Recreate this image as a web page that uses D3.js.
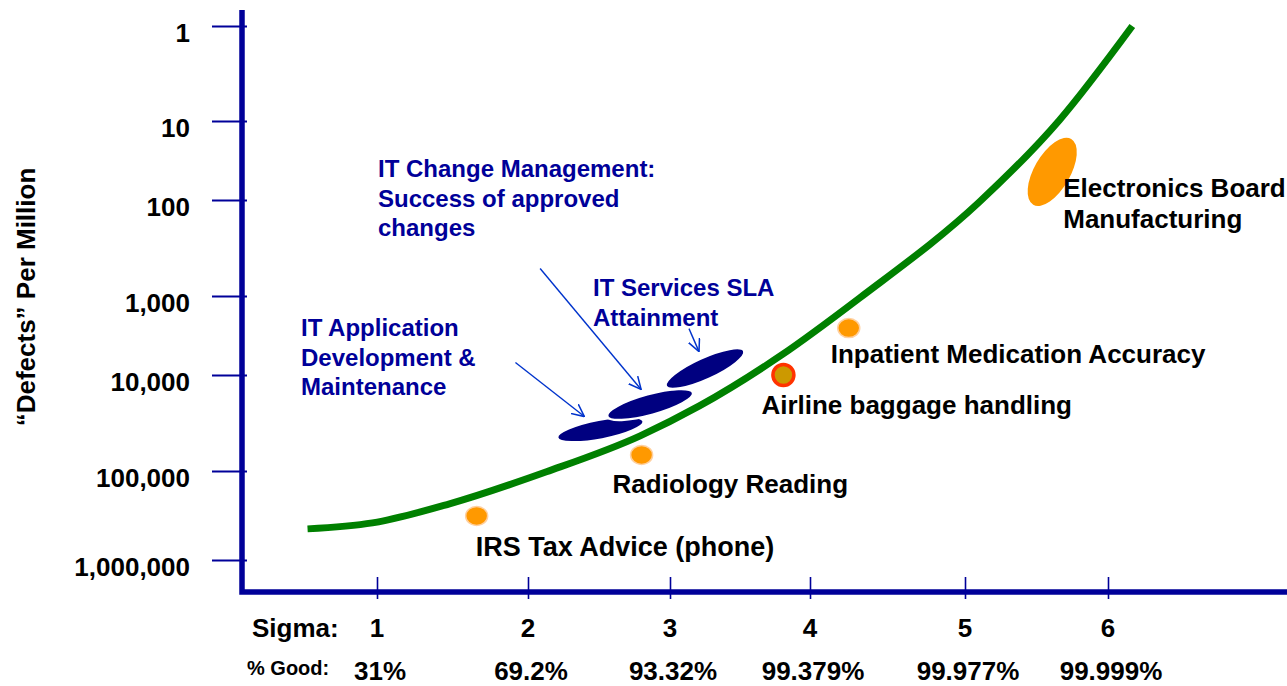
<!DOCTYPE html>
<html>
<head>
<meta charset="utf-8">
<script src="https://cdn.jsdelivr.net/npm/d3@7"></script>
<style>
  body { margin: 0; background: #fff; }
  text { font-family: "Liberation Sans", Arial, sans-serif; font-weight: bold; }
</style>
</head>
<body>
<div id="chart"></div>
<script>
// y axis: "defects" per million, log steps
let yTicks = [1, 10, 100, 1000, 10000, 100000, 1000000];
let yTickLabels = ["1", "10", "100", "1,000", "10,000", "100,000", "1,000,000"];

// x axis: sigma level and % good
let sigmas = [1, 2, 3, 4, 5, 6];
let goodLabels = ["31%", "69.2%", "93.32%", "99.379%", "99.977%", "99.999%"];

// green sigma curve
let curveSigma = [0.54, 0.97, 1.48, 2.13, 2.79, 3.21, 3.79, 4.32, 5.10, 5.66, 6.17];
let curveDpmo = [447000, 383000, 234000, 102000, 43000, 21000, 5700, 1060, 105, 9.8, 1];

// benchmark processes (orange markers)
let benchNames = [["IRS Tax Advice (phone)"], ["Radiology Reading"], ["Airline baggage handling"],
                  ["Inpatient Medication Accuracy"], ["Electronics Board", "Manufacturing"]];
let benchSigma = [1.66, 2.80, 3.81, 4.25, 5.61];
let benchDpmo = [320000, 68000, 10000, 2550, 44];

// IT processes (navy ellipses)
let itNames = [["IT Application", "Development &", "Maintenance"],
               ["IT Change Management:", "Success of approved", "changes"],
               ["IT Services SLA", "Attainment"]];
let itSigma = [2.51, 2.86, 3.25];
let itDpmo = [37000, 20300, 8300];

let width = 1287;
let height = 686;
let navy = "#000099";

let x = d3.scaleLinear()
          .domain(sigmas)
          .range([377, 528, 670, 810, 965, 1108]);

let y = d3.scaleLog()
          .domain(yTicks)
          .range([26, 121, 200, 296, 375, 471, 560]);

let svg = d3.select('#chart').append('svg')
            .attr('width', width)
            .attr('height', height);

svg.append('defs').append('marker')
    .attr('id', 'arrow')
    .attr('viewBox', '0 0 12 12')
    .attr('refX', 11.5)
    .attr('refY', 6)
    .attr('markerUnits', 'userSpaceOnUse')
    .attr('markerWidth', 13)
    .attr('markerHeight', 13)
    .attr('orient', 'auto')
  .append('path')
    .attr('d', 'M0,0.5 L11.5,6 L0,11.5')
    .attr('fill', 'none')
    .attr('stroke', '#0033cc')
    .attr('stroke-width', 1.4);

// y axis
let yAxis = d3.axisLeft(y)
              .tickValues(yTicks)
              .tickSize(35)
              .tickFormat('');
svg.append('g')
    .attr('transform', 'translate(247,0)')
    .call(yAxis)
    .call(g => g.select('.domain').remove())
    .call(g => g.selectAll('.tick line').attr('stroke', navy).attr('stroke-width', 2));

svg.selectAll('.ylab')
    .data(yTicks)
    .join('text')
    .attr('class', 'ylab')
    .attr('x', 190)
    .attr('y', d => y(d) + 16)
    .attr('text-anchor', 'end')
    .attr('font-size', 26)
    .text((d, i) => yTickLabels[i]);

// x axis
let xAxis = d3.axisBottom(x)
              .tickValues(sigmas)
              .tickSize(22)
              .tickFormat('');
svg.append('g')
    .attr('transform', 'translate(0,577)')
    .call(xAxis)
    .call(g => g.select('.domain').remove())
    .call(g => g.selectAll('.tick line').attr('stroke', navy).attr('stroke-width', 1.6));

svg.append('path')
    .attr('d', 'M242,10 L242,592 L1287,592')
    .attr('fill', 'none')
    .attr('stroke', navy)
    .attr('stroke-width', 5.5);

svg.append('text')
    .attr('x', 252).attr('y', 637)
    .attr('font-size', 26)
    .text('Sigma:');

svg.selectAll('.xlab')
    .data(sigmas)
    .join('text')
    .attr('class', 'xlab')
    .attr('x', d => x(d))
    .attr('y', 637)
    .attr('text-anchor', 'middle')
    .attr('font-size', 26)
    .text(d => d);

svg.append('text')
    .attr('x', 247).attr('y', 675)
    .attr('font-size', 20)
    .text('% Good:');

svg.selectAll('.glab')
    .data(sigmas)
    .join('text')
    .attr('class', 'glab')
    .attr('x', d => x(d) + 3)
    .attr('y', 680)
    .attr('text-anchor', 'middle')
    .attr('font-size', 26)
    .text((d, i) => goodLabels[i]);

svg.append('text')
    .attr('transform', 'translate(35,297) rotate(-90)')
    .attr('text-anchor', 'middle')
    .attr('font-size', 26)
    .text('\u201cDefects\u201d Per Million');

// curve
let line = d3.line()
             .x(d => x(d[0]))
             .y(d => y(d[1]))
             .curve(d3.curveMonotoneX);

svg.append('path')
    .datum(curveSigma.map((s, i) => [s, curveDpmo[i]]))
    .attr('d', line)
    .attr('fill', 'none')
    .attr('stroke', '#008000')
    .attr('stroke-width', 7);

// IT ellipses, arrows and labels
let itShape = [{rx: 44, ry: 10, rot: -10.7}, {rx: 44.5, ry: 10.5, rot: -15.3}, {rx: 43, ry: 11, rot: -24.4}];
let itArrow = [{tip: [-16, -13], tail: [-69, -54]}, {tip: [-9, -15], tail: [-101, -121]}, {tip: [-6, -17], tail: [-10, -23]}];
let itLabelPos = [[301, 336], [378, 177], [593, 296]];

itSigma.forEach((s, i) => {
    let cx = x(s), cy = y(itDpmo[i]);
    svg.append('ellipse')
        .attr('cx', cx).attr('cy', cy)
        .attr('rx', itShape[i].rx).attr('ry', itShape[i].ry)
        .attr('transform', `rotate(${itShape[i].rot},${cx},${cy})`)
        .attr('fill', '#000080')
        .attr('stroke', '#fff')
        .attr('stroke-width', 2.5);
});

itSigma.forEach((s, i) => {
    let tx = x(s) + itArrow[i].tip[0], ty = y(itDpmo[i]) + itArrow[i].tip[1];
    svg.append('line')
        .attr('x1', tx + itArrow[i].tail[0]).attr('y1', ty + itArrow[i].tail[1])
        .attr('x2', tx).attr('y2', ty)
        .attr('stroke', '#0033cc')
        .attr('stroke-width', 1.4)
        .attr('marker-end', 'url(#arrow)');

    svg.append('text')
        .attr('x', itLabelPos[i][0])
        .attr('y', itLabelPos[i][1])
        .attr('fill', navy)
        .attr('font-size', 24)
        .selectAll('tspan')
        .data(itNames[i])
        .join('tspan')
        .attr('x', itLabelPos[i][0])
        .attr('dy', (d, j) => j ? 29.5 : 0)
        .text(d => d);
});

// benchmark markers
let benchLabelOff = [[-1, 40], [-29, 38], [-22, 39], [-18, 35], [11, 25]];

benchSigma.forEach((s, i) => {
    let cx = x(s), cy = y(benchDpmo[i]);
    if (i == 4) {
        svg.append('ellipse')
            .attr('cx', cx).attr('cy', cy)
            .attr('rx', 18).attr('ry', 38)
            .attr('transform', `rotate(30,${cx},${cy})`)
            .attr('fill', '#ff9900');
    } else if (i == 2) {
        svg.append('circle')
            .attr('cx', cx).attr('cy', cy)
            .attr('r', 10.5)
            .attr('fill', '#cc9900')
            .attr('stroke', '#ff3300')
            .attr('stroke-width', 3.5);
    } else {
        svg.append('ellipse')
            .attr('cx', cx).attr('cy', cy)
            .attr('rx', 11).attr('ry', 9.5)
            .attr('fill', '#ff9900')
            .attr('stroke', '#ffd0a0')
            .attr('stroke-width', 1.5);
    }

    let lx = cx + benchLabelOff[i][0];
    svg.append('text')
        .attr('x', lx)
        .attr('y', cy + benchLabelOff[i][1])
        .attr('font-size', i == 0 ? 27 : 26)
        .selectAll('tspan')
        .data(benchNames[i])
        .join('tspan')
        .attr('x', lx)
        .attr('dy', (d, j) => j ? 31.5 : 0)
        .text(d => d);
});
</script>
</body>
</html>
